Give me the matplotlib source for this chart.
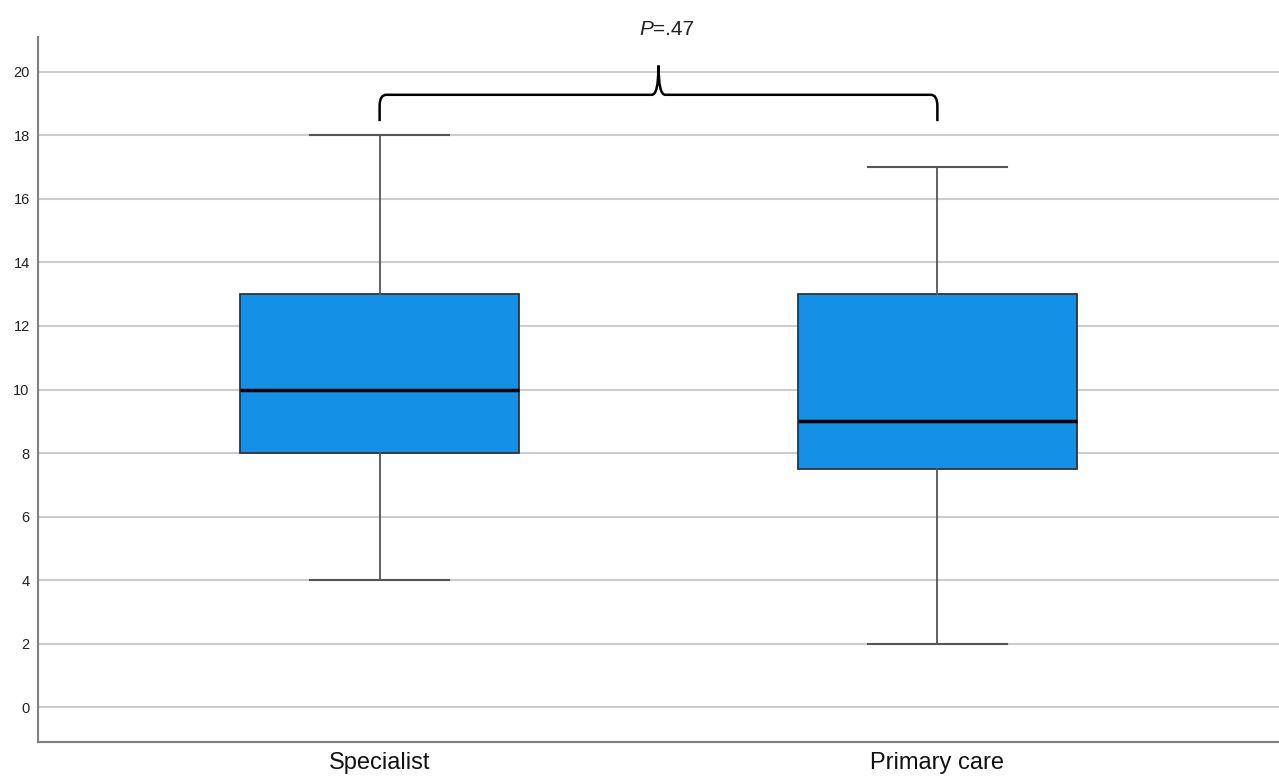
import matplotlib.pyplot as plt
import numpy as np
from matplotlib.path import Path
from matplotlib.patches import PathPatch

plt.rcParams['font.family'] = ['Liberation Sans', 'DejaVu Sans']

# Group summaries (whisker low, Q1, median, Q3, whisker high)
groups = ['Specialist', 'Primary care']
whislo = [4, 2]
q1 = [8, 7.5]
med = [10, 9]
q3 = [13, 13]
whishi = [18, 17]
yticks = [0, 2, 4, 6, 8, 10, 12, 14, 16, 18, 20]

fig = plt.figure(figsize=(12.79, 7.8), dpi=100)
ax = fig.add_axes([38 / 1279, 38 / 780, 1 - 38 / 1279, (742 - 37) / 780])

stats = []
for i, g in enumerate(groups):
    stats.append({'label': g, 'whislo': whislo[i], 'q1': q1[i], 'med': med[i],
                  'q3': q3[i], 'whishi': whishi[i], 'fliers': []})

ax.bxp(stats, positions=[0, 1], widths=0.5, patch_artist=True,
       showfliers=False, capwidths=0.25,
       boxprops=dict(facecolor='#1490e6', edgecolor='#333333', linewidth=1.3),
       medianprops=dict(color='black', linewidth=2.5),
       whiskerprops=dict(color='#555555', linewidth=1.3),
       capprops=dict(color='#555555', linewidth=1.5))

ax.set_xlim(-0.6125, 1.6125)
ax.set_ylim(-1.1, 21.1)
ax.set_yticks(yticks)
ax.yaxis.grid(True, color='#cccccc', linewidth=1.5)
ax.set_axisbelow(True)
ax.tick_params(axis='both', length=0)
ax.tick_params(axis='y', labelsize=10.5, pad=6, labelcolor='#222222')
ax.tick_params(axis='x', pad=7, labelsize=17, labelcolor='#111111')
for s in ['top', 'right']:
    ax.spines[s].set_visible(False)
for s in ['left', 'bottom']:
    ax.spines[s].set_color('#808080')
    ax.spines[s].set_linewidth(1.5)

# curly bracket between the two groups
x0, x1, xm = 0.0, 1.0, 0.5
yb, yh, yt = 18.45, 19.28, 20.2
dx = 0.012
dy = 0.35
verts = [(x0, yb), (x0, yh - dy), (x0, yh), (x0 + dx, yh),
         (xm - dx, yh), (xm, yh), (xm, yt),
         (xm, yh), (xm + dx, yh),
         (x1 - dx, yh), (x1, yh), (x1, yh - dy), (x1, yb)]
codes = [Path.MOVETO, Path.LINETO, Path.CURVE3, Path.CURVE3,
         Path.LINETO, Path.CURVE3, Path.CURVE3,
         Path.CURVE3, Path.CURVE3,
         Path.LINETO, Path.CURVE3, Path.CURVE3, Path.LINETO]
brace = PathPatch(Path(verts, codes), facecolor='none', edgecolor='black',
                  linewidth=1.8, clip_on=False)
ax.add_patch(brace)
ax.text(xm - 0.01, 21.35, 'P', ha='right', va='center', fontsize=15,
        style='italic', color='#222222', clip_on=False)
ax.text(xm - 0.01, 21.35, '=.47', ha='left', va='center', fontsize=15,
        color='#222222', clip_on=False)

fig.savefig('out.png', dpi=100)
